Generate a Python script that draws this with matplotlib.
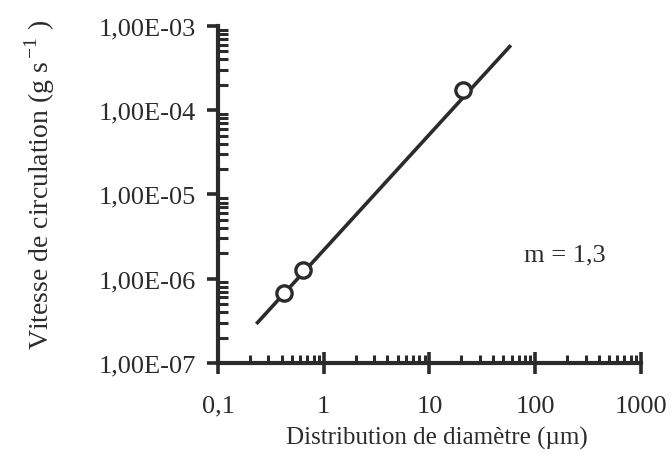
import numpy as np
import matplotlib
matplotlib.use("Agg")
import matplotlib.pyplot as plt
from matplotlib.ticker import LogLocator, NullFormatter

# Points mesurés
diametre = [0.42, 0.63, 21.0]
vitesse = [6.8e-7, 1.27e-6, 1.73e-4]

# Droite d'ajustement (extrémités)
fit_x = [0.23, 59.0]
fit_y = [2.9e-7, 5.9e-4]

x_ticks = [0.1, 1, 10, 100, 1000]
x_labels = ["0,1", "1", "10", "100", "1000"]
y_ticks = [1e-7, 1e-6, 1e-5, 1e-4, 1e-3]
y_labels = ["1,00E-07", "1,00E-06", "1,00E-05", "1,00E-04", "1,00E-03"]

ink = "#2b2b2b"
plt.rcParams["font.family"] = ["Liberation Serif", "DejaVu Serif"]

fig = plt.figure(figsize=(6.71, 4.56), dpi=100)
ax = fig.add_axes([0.325, 0.202, 0.63, 0.739])

ax.plot(fit_x, fit_y, color=ink, lw=2.6, solid_capstyle="butt", zorder=2)
ax.plot(diametre, vitesse, "o", ms=11, mfc="white", mec=ink, mew=2.4, zorder=3)

ax.set_xscale("log")
ax.set_yscale("log")
ax.set_xlim(0.1, 1000)
ax.set_ylim(1e-7, 1e-3)

ax.set_xticks(x_ticks)
ax.set_xticklabels(x_labels)
ax.set_yticks(y_ticks)
ax.set_yticklabels(y_labels)
ax.xaxis.set_minor_locator(LogLocator(base=10, subs=np.arange(2, 10)))
ax.yaxis.set_minor_locator(LogLocator(base=10, subs=np.arange(2, 10)))
ax.xaxis.set_minor_formatter(NullFormatter())
ax.yaxis.set_minor_formatter(NullFormatter())

for s in ["top", "right"]:
    ax.spines[s].set_visible(False)
for s in ["left", "bottom"]:
    ax.spines[s].set_linewidth(3.0)
    ax.spines[s].set_color(ink)

ax.tick_params(axis="x", which="major", direction="inout", length=16, width=2.6,
               color=ink, labelsize=19, pad=15, labelcolor=ink)
ax.tick_params(axis="x", which="minor", direction="in", length=6, width=2.2, color=ink)
ax.tick_params(axis="y", which="major", direction="out", length=8, width=2.6,
               color=ink, labelsize=19, pad=8, labelcolor=ink)
ax.tick_params(axis="y", which="minor", direction="in", length=7, width=2.2, color=ink)

fig.text(437 / 671, 1 - 438 / 456, "Distribution de diamètre (µm)", fontsize=18,
         color=ink, ha="center", va="center")
fig.text(40 / 671, 1 - 185 / 456, "Vitesse de circulation (g s$^{\\,\\mathregular{-1}}$ )",
         fontsize=20, color=ink, ha="center", va="center", rotation=90)

ax.text(0.82, 0.323, "m = 1,3", transform=ax.transAxes, fontsize=19, color=ink,
        ha="center", va="center")

fig.savefig("out.png", dpi=100, facecolor="white")
